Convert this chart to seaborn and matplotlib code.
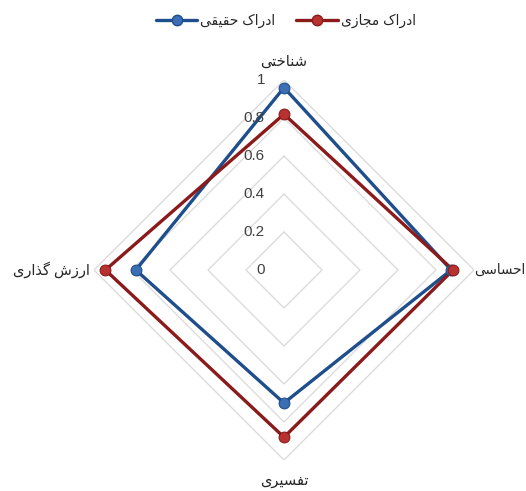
import numpy as np
import pandas as pd
import matplotlib
matplotlib.use("Agg")
import matplotlib.pyplot as plt
import matplotlib.transforms as mtransforms
import seaborn as sns

# data
categories = ["شناختی", "احساسی", "تفسیری", "ارزش گذاری"]
series_names = ["ادراک حقیقی", "ادراک مجازی"]
real_values = [0.96, 0.88, 0.70, 0.78]
virtual_values = [0.82, 0.89, 0.88, 0.94]
r_ticks = [0, 0.2, 0.4, 0.6, 0.8, 1.0]
r_tick_labels = ["0", "0.2", "0.4", "0.6", "0.8", "1"]

colors = ["#1F4E8C", "#8B1A1A"]
face_colors = ["#3C6EB4", "#B83232"]

# minimal Persian shaping (matplotlib has no bidi / joining support)
FORMS = {
    "ا": ("\uFE8D", "\uFE8E", None, None),
    "د": ("\uFEA9", "\uFEAA", None, None),
    "ذ": ("\uFEAB", "\uFEAC", None, None),
    "ر": ("\uFEAD", "\uFEAE", None, None),
    "ز": ("\uFEAF", "\uFEB0", None, None),
    "ج": ("\uFE9D", "\uFE9E", "\uFE9F", "\uFEA0"),
    "ح": ("\uFEA1", "\uFEA2", "\uFEA3", "\uFEA4"),
    "خ": ("\uFEA5", "\uFEA6", "\uFEA7", "\uFEA8"),
    "ت": ("\uFE95", "\uFE96", "\uFE97", "\uFE98"),
    "س": ("\uFEB1", "\uFEB2", "\uFEB3", "\uFEB4"),
    "ش": ("\uFEB5", "\uFEB6", "\uFEB7", "\uFEB8"),
    "ف": ("\uFED1", "\uFED2", "\uFED3", "\uFED4"),
    "ق": ("\uFED5", "\uFED6", "\uFED7", "\uFED8"),
    "م": ("\uFEE1", "\uFEE2", "\uFEE3", "\uFEE4"),
    "ن": ("\uFEE5", "\uFEE6", "\uFEE7", "\uFEE8"),
    "ک": ("\uFB8E", "\uFB8F", "\uFB90", "\uFB91"),
    "گ": ("\uFB92", "\uFB93", "\uFB94", "\uFB95"),
    "ی": ("\uFBFC", "\uFBFD", "\uFBFE", "\uFBFF"),
}


def dual(c):
    return c in FORMS and FORMS[c][2] is not None


def shape(text):
    out = []
    for i, c in enumerate(text):
        if c not in FORMS:
            out.append(c)
            continue
        prev_c = text[i - 1] if i > 0 else " "
        next_c = text[i + 1] if i < len(text) - 1 else " "
        j_prev = dual(prev_c)
        j_next = dual(c) and next_c in FORMS
        iso, fin, ini, med = FORMS[c]
        if j_prev and j_next:
            out.append(med)
        elif j_prev:
            out.append(fin)
        elif j_next:
            out.append(ini)
        else:
            out.append(iso)
    return "".join(out)[::-1]


angles = np.linspace(0, 2 * np.pi, len(categories), endpoint=False)

rows = []
for name, vals in zip(series_names, [real_values, virtual_values]):
    for k, v in enumerate(vals + vals[:1]):
        rows.append({"series": name, "theta": np.append(angles, 2 * np.pi)[k], "value": v})
df = pd.DataFrame(rows)

sns.set_theme(style="white")
plt.rcParams["font.family"] = ["Liberation Sans", "DejaVu Sans"]

fig = plt.figure(figsize=(5.26, 4.91), dpi=100)
ax = fig.add_axes([0.1787, 0.0631, 0.7224, 0.774], projection="polar")
ax.set_theta_offset(np.pi / 2)
ax.set_theta_direction(-1)
ax.set_ylim(0, 1)
ax.grid(False)
ax.spines["polar"].set_visible(False)
ax.set_xticks([])
ax.set_yticks([])

# diamond gridlines
grid_theta = np.append(angles, 2 * np.pi)
for r in r_ticks[1:]:
    ax.plot(grid_theta, [r] * len(grid_theta), color="#D9D9D9", lw=0.9, zorder=1)

sns.lineplot(data=df, x="theta", y="value", hue="series", palette=colors,
             sort=False, estimator=None, units="series", lw=2.4, ax=ax,
             legend=False, zorder=3)

handles = []
for name, vals, c, fc in zip(series_names, [real_values, virtual_values], colors, face_colors):
    ax.scatter(angles, vals, s=60, color=fc, edgecolor=c, linewidth=0.8, zorder=4)
    handles.append(plt.Line2D([], [], color=c, lw=2.4, marker="o", markersize=7.5,
                              markerfacecolor=fc, markeredgecolor=c))

lbl_tr = mtransforms.offset_copy(ax.transData, fig=fig, x=-19, y=0, units="dots")
for r, t in zip(r_ticks, r_tick_labels):
    ax.text(0, r, t, transform=lbl_tr, ha="right", va="center", fontsize=11,
            color="#404040", zorder=6)

ax.text(angles[0], 1.095, shape(categories[0]), ha="center", va="center", fontsize=10.5, color="#262626")
ax.text(angles[1], 1.0, shape(categories[1]), ha="left", va="center", fontsize=9.8, color="#262626")
ax.text(angles[2], 1.11, shape(categories[2]), ha="center", va="center", fontsize=10.5, color="#262626")
ax.text(angles[3], 1.02, shape(categories[3]), ha="right", va="center", fontsize=10.5, color="#262626")
ax.set_xlabel("")
ax.set_ylabel("")

fig.legend(handles, [shape(s) for s in series_names], loc="center", ncol=2,
           bbox_to_anchor=(0.543, 0.958), frameon=False, fontsize=10,
           handlelength=3.0, columnspacing=1.5, handletextpad=0.2)

fig.savefig("out.png", dpi=100)
